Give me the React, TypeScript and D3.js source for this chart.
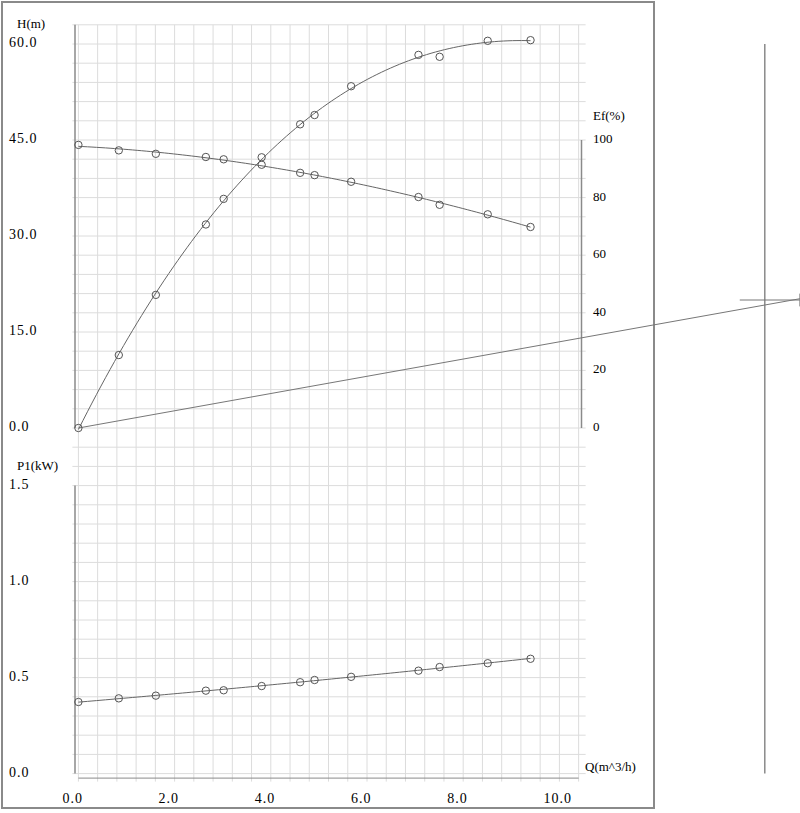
import React from "react";
import * as d3 from "d3";

// ---- data ----
const flowQ = [0, 0.84, 1.61, 2.65, 3.02, 3.81, 4.61, 4.91, 5.67, 7.07, 7.51, 8.51, 9.4];
const headH = [0, 11.4, 20.8, 31.8, 35.8, 42.3, 47.45, 48.9, 53.4, 58.3, 58.0, 60.5, 60.6];
const effEf = [98.3, 96.4, 95.2, 94.1, 93.3, 91.4, 88.6, 87.8, 85.5, 80.2, 77.5, 74.2, 69.8];
const powerP1 = [0.373, 0.392, 0.406, 0.432, 0.434, 0.456, 0.476, 0.4875, 0.504, 0.536, 0.555, 0.575, 0.598];

const xTicks = [0, 2, 4, 6, 8, 10];
const hTicks = [0, 15, 30, 45, 60];
const efTicks = [0, 20, 40, 60, 80, 100];
const pTicks = [0, 0.5, 1.0, 1.5];

const systemQ = [0, 15];
const systemH = [0, 20.2];
const markerQ = [13.75, 15];
const markerH = 20;
const guideQ = 14.27;

// least squares polynomial fit
function polyfit(xs: number[], ys: number[], deg: number): number[] {
  const m = deg + 1;
  const A: number[][] = Array.from({ length: m }, () => new Array(m + 1).fill(0));
  for (let k = 0; k < xs.length; k++) {
    for (let i = 0; i < m; i++) {
      for (let j = 0; j < m; j++) A[i][j] += Math.pow(xs[k], i + j);
      A[i][m] += ys[k] * Math.pow(xs[k], i);
    }
  }
  for (let i = 0; i < m; i++) {
    let p = i;
    for (let r = i + 1; r < m; r++) if (Math.abs(A[r][i]) > Math.abs(A[p][i])) p = r;
    [A[i], A[p]] = [A[p], A[i]];
    for (let r = 0; r < m; r++) {
      if (r === i) continue;
      const f = A[r][i] / A[i][i];
      for (let c = i; c <= m; c++) A[r][c] -= f * A[i][c];
    }
  }
  return A.map((row, i) => row[m] / row[i]);
}
const evalPoly = (c: number[], x: number) => c.reduce((s, v, i) => s + v * Math.pow(x, i), 0);

export default function App() {
  const x = d3.scaleLinear().domain([0, 10]).range([78.4, 559.4]);
  const yH = d3.scaleLinear().domain([0, 60]).range([428, 44]);
  const yEf = d3.scaleLinear().domain([0, 100]).range([428, 140]);
  const yP = d3.scaleLinear().domain([0, 1.5]).range([773.6, 485.6]);

  const qMax = d3.max(flowQ) as number;
  const samples = d3.range(0, 101).map((i) => (qMax * i) / 100);
  const cH = polyfit(flowQ, headH, 3);
  const cE = polyfit(flowQ, effEf, 3);
  const cP = polyfit(flowQ, powerP1, 2);

  const lineH = d3.line<number>().x((q) => x(q)).y((q) => yH(evalPoly(cH, q)));
  const lineE = d3.line<number>().x((q) => x(q)).y((q) => yEf(evalPoly(cE, q)));
  const lineP = d3.line<number>().x((q) => x(q)).y((q) => yP(evalPoly(cP, q)));

  const gridQ = d3.range(0, 27).map((i) => i * 0.4);
  const gridHrows = d3.range(0, 22).map((i) => 63 - i * 3);
  const gridProws = d3.range(0, 18).map((i) => 1.7 - i * 0.1);
  const gridYs = [...gridHrows.map((h) => yH(h)), ...gridProws.map((p) => yP(p))];
  const gridTop = yH(63);
  const gridLeft = x(0) - 6;
  const gridRight = x(10.4) + 7;
  const gridBottom = yP(0) + 8;

  const numFont = { fontFamily: "'Liberation Serif', serif", fontSize: 14, letterSpacing: 1, fill: "#000" };
  const lblFont = { fontFamily: "'Liberation Serif', serif", fontSize: 13, fill: "#000" };

  const circles = (ys: number[], sc: d3.ScaleLinear<number, number>, key: string) =>
    flowQ.map((q, i) => (
      <circle key={key + i} cx={x(q)} cy={sc(ys[i])} r={3.7} fill="none" stroke="#555" strokeWidth={1} />
    ));

  return (
    <svg width={800} height={813} style={{ position: "absolute", left: 0, top: 0, display: "block", background: "#fff" }}>
      <rect x={0} y={0} width={800} height={813} fill="#fff" />
      {/* grid */}
      <g stroke="#dcdcdc" strokeWidth={1}>
        {gridYs.map((y, i) => (
          <line key={"gh" + i} x1={gridLeft} x2={gridRight} y1={y} y2={y} />
        ))}
        {gridQ.map((q, i) => (
          <line key={"gv" + i} x1={x(q)} x2={x(q)} y1={gridTop} y2={gridBottom} />
        ))}
      </g>
      {/* axes */}
      <g stroke="#8a8a8a" strokeWidth={1.5} fill="none">
        <line x1={75} x2={75} y1={gridTop} y2={yH(0)} />
        <line x1={75} x2={75} y1={yP(1.5)} y2={yP(0)} />
        <line x1={581.5} x2={581.5} y1={yEf(100)} y2={yEf(0)} />
        <line x1={x(0)} x2={x(10.4)} y1={yP(0) + 4.5} y2={yP(0) + 4.5} strokeWidth={1} />
      </g>
      {/* frame */}
      <rect x={2} y={2} width={652} height={806} fill="none" stroke="#8a8a8a" strokeWidth={2} />
      {/* guide line and system line */}
      <line x1={x(guideQ)} x2={x(guideQ)} y1={yH(60)} y2={yP(0)} stroke="#8a8a8a" strokeWidth={1.5} />
      <line x1={x(systemQ[0])} y1={yH(systemH[0])} x2={x(systemQ[1])} y2={yH(systemH[1])} stroke="#777" strokeWidth={1} />
      <line x1={x(markerQ[0])} x2={x(markerQ[1])} y1={yH(markerH)} y2={yH(markerH)} stroke="#777" strokeWidth={1} />
      <line x1={x(markerQ[1])} x2={x(markerQ[1])} y1={yH(markerH + 1)} y2={yH(markerH - 1)} stroke="#777" strokeWidth={1} />
      {/* curves */}
      <g fill="none" stroke="#666" strokeWidth={1}>
        <path d={lineH(samples) || ""} />
        <path d={lineE(samples) || ""} />
        <path d={lineP(samples) || ""} />
      </g>
      {circles(headH, yH, "h")}
      {circles(effEf, yEf, "e")}
      {circles(powerP1, yP, "p")}
      {/* labels */}
      <text x={17} y={25} dominantBaseline="middle" style={lblFont}>H(m)</text>
      {hTicks.map((t) => (
        <text key={"ht" + t} x={9} y={yH(t)} dominantBaseline="middle" style={numFont}>
          {t.toFixed(1)}
        </text>
      ))}
      <text x={17} y={467} dominantBaseline="middle" style={lblFont}>P1(kW)</text>
      {pTicks.map((t) => (
        <text key={"pt" + t} x={9} y={yP(t)} dominantBaseline="middle" style={numFont}>
          {t.toFixed(1)}
        </text>
      ))}
      <text x={593} y={117} dominantBaseline="middle" style={lblFont}>Ef(%)</text>
      {efTicks.map((t) => (
        <text key={"et" + t} x={593} y={yEf(t)} dominantBaseline="middle" style={lblFont}>
          {t}
        </text>
      ))}
      {xTicks.map((t) => (
        <text key={"xt" + t} x={x(t) - 16} y={800} dominantBaseline="middle" style={numFont}>
          {t.toFixed(1)}
        </text>
      ))}
      <text x={585} y={768} dominantBaseline="middle" style={lblFont}>Q(m^3/h)</text>
    </svg>
  );
}
